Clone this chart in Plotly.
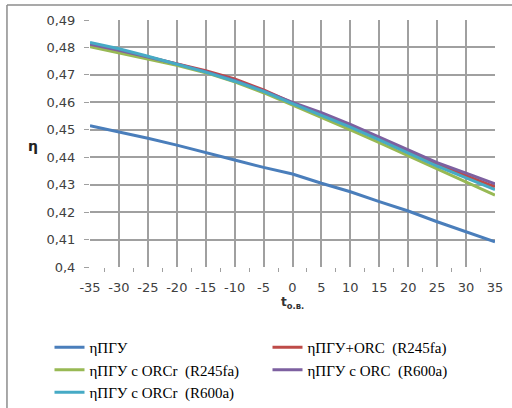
import plotly.graph_objects as go

t = [-35, -30, -25, -20, -15, -10, -5, 0, 5, 10, 15, 20, 25, 30, 35]

eta_pgu = [0.4515, 0.4493, 0.4469, 0.4444, 0.4416, 0.4390, 0.4363, 0.4339,
           0.4305, 0.4274, 0.4238, 0.4204, 0.4165, 0.4128, 0.4092]
eta_orc_r245 = [0.4812, 0.4790, 0.4765, 0.4740, 0.4715, 0.4685, 0.4645, 0.4598,
                0.4555, 0.4513, 0.4467, 0.4420, 0.4373, 0.4333, 0.4292]
eta_orcr_r245 = [0.4803, 0.4780, 0.4757, 0.4735, 0.4708, 0.4675, 0.4635, 0.4590,
                 0.4547, 0.4500, 0.4453, 0.4406, 0.4358, 0.4310, 0.4262]
eta_orc_r600 = [0.4812, 0.4790, 0.4765, 0.4740, 0.4712, 0.4680, 0.4642, 0.4600,
                0.4562, 0.4520, 0.4473, 0.4426, 0.4380, 0.4342, 0.4303]
eta_orcr_r600 = [0.4818, 0.4795, 0.4768, 0.4740, 0.4710, 0.4677, 0.4640, 0.4595,
                 0.4553, 0.4510, 0.4463, 0.4415, 0.4368, 0.4325, 0.4282]

names = ["ηПГУ", "ηПГУ+ORC  (R245fa)", "ηПГУ с ORCr  (R245fa)",
         "ηПГУ с ORC  (R600a)", "ηПГУ с ORCr  (R600a)"]
series = [eta_pgu, eta_orc_r245, eta_orcr_r245, eta_orc_r600, eta_orcr_r600]
colors = ["#4a7ebb", "#be4b48", "#98b954", "#7d60a0", "#46aac5"]

y_ticks = [0.40, 0.41, 0.42, 0.43, 0.44, 0.45, 0.46, 0.47, 0.48, 0.49]
y_labels = ["0,4", "0,41", "0,42", "0,43", "0,44", "0,45", "0,46", "0,47", "0,48", "0,49"]

fig = go.Figure()
for name, ys, c in zip(names, series, colors):
    fig.add_trace(go.Scatter(x=t, y=ys, mode="lines", name=name,
                             line=dict(color=c, width=3)))

tickfont = dict(family="DejaVu Sans", size=13, color="#404040")
fig.update_layout(
    width=512, height=408,
    margin=dict(l=90, r=17, t=20, b=141, autoexpand=False),
    paper_bgcolor="white", plot_bgcolor="white",
    showlegend=True,
    legend=dict(orientation="h", x=-0.1, xanchor="left", y=-0.259, yanchor="top",
                entrywidth=173, font=dict(family="Liberation Serif", size=15, color="#000"),
                bgcolor="rgba(0,0,0,0)"),
    xaxis=dict(range=[-35, 35], tickmode="array", tickvals=t,
               ticktext=[str(v) for v in t], ticks="", tickfont=tickfont,
               ticklabelstandoff=11,
               showgrid=True, gridcolor="#a0a0a0", gridwidth=1.5,
               zeroline=False, showline=False,
               minor=dict(tick0=-32.5, dtick=5, ticks="outside", ticklen=4,
                          tickcolor="#a0a0a0", showgrid=False)),
    yaxis=dict(range=[0.40, 0.49], tickmode="array", tickvals=y_ticks,
               ticktext=y_labels, ticks="outside", ticklen=5, tickcolor="#a0a0a0",
               ticklabelstandoff=6,
               tickfont=tickfont, showgrid=True, gridcolor="#a0a0a0", gridwidth=1.5,
               zeroline=False, showline=False),
    annotations=[
        dict(text="<b>η</b>", xref="paper", yref="paper", x=-0.141, y=0.49,
             xanchor="center", yanchor="middle",
             showarrow=False, font=dict(family="DejaVu Sans", size=14, color="#222")),
        dict(text="<b>t<sub>о.в.</sub></b>", xref="paper", yref="paper", x=0.5, y=-0.146,
             xanchor="center", yanchor="middle",
             showarrow=False, font=dict(family="DejaVu Sans", size=12, color="#333")),
    ],
    shapes=[
        dict(type="line", xref="paper", yref="paper", x0=-0.205, x1=1.05, y0=1.061, y1=1.061,
             line=dict(color="#8c8c8c", width=1.5)),
        dict(type="line", xref="paper", yref="paper", x0=-0.205, x1=-0.205, y0=1.061, y1=-0.6,
             line=dict(color="#8c8c8c", width=1.5)),
    ],
)
fig.write_html("out.html", config={"displayModeBar": False},
               post_script="document.body.style.margin='0';")
